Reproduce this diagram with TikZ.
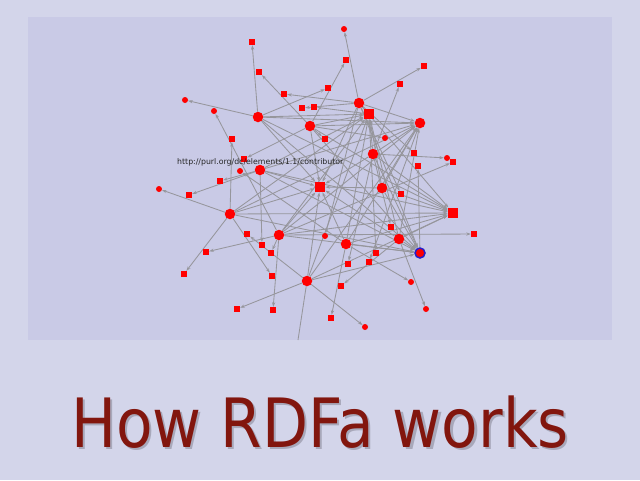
\documentclass[tikz,border=0pt]{standalone}
\usepackage{fontspec}
\setmainfont{DejaVu Sans}
\usetikzlibrary{arrows.meta}
\definecolor{outerbg}{RGB}{211,213,234}
\definecolor{panelbg}{RGB}{201,202,230}
\definecolor{edgegray}{RGB}{150,150,156}
\definecolor{titlered}{RGB}{130,22,14}
\definecolor{shadowgray}{RGB}{168,168,186}
\definecolor{ringblue}{RGB}{40,30,200}
\pgfdeclarelayer{bglayer}
\pgfdeclarelayer{edgelayer}
\pgfsetlayers{bglayer,edgelayer,main}
\newcommand{\titlewords}{How RDFa works}
\begin{document}
\begin{tikzpicture}[x=1pt,y=-1pt,
  hub/.style={circle,fill=red,draw=none,minimum size=10.5pt,inner sep=0pt},
  bigsq/.style={rectangle,fill=red,draw=none,minimum size=10.5pt,inner sep=0pt},
  sq/.style={rectangle,fill=red,draw=none,minimum size=6pt,inner sep=0pt},
  sc/.style={circle,fill=red,draw=none,minimum size=6pt,inner sep=0pt},
  sel/.style={circle,fill=red,draw=ringblue,line width=1.5pt,minimum size=10pt,inner sep=0pt},
  link/.style={draw=edgegray,line width=0.85pt,-{Stealth[length=4.5pt,width=3.2pt]}},
  plainlink/.style={draw=edgegray,line width=0.85pt},
  titletext/.style={anchor=base,font=\fontsize{68}{68}\selectfont,inner sep=0pt},
  urltext/.style={anchor=base west,font=\fontsize{7.8}{8}\selectfont,text=black!85,inner sep=0pt}]
\useasboundingbox (0,0) rectangle (640,480);
\begin{pgfonlayer}{bglayer}
  \fill[outerbg] (0,0) rectangle (640,480);
  \fill[panelbg] (28,17) rectangle (612,340);
\end{pgfonlayer}
% hubs
\node[hub] (A) at (258,117) {};
\node[hub] (B) at (310,126) {};
\node[hub] (C) at (359,103) {};
\node[hub] (D) at (420,123) {};
\node[hub] (E) at (373,154) {};
\node[hub] (F) at (260,170) {};
\node[hub] (G) at (382,188) {};
\node[hub] (H) at (230,214) {};
\node[hub] (I) at (279,235) {};
\node[hub] (J) at (346,244) {};
\node[hub] (K) at (399,239) {};
\node[hub] (L) at (307,281) {};
\node[bigsq] (S1) at (369,114) {};
\node[bigsq] (S2) at (320,187) {};
\node[bigsq] (S3) at (453,213) {};
\node[sel] (X) at (420,253) {};
% leaf squares
\node[sq] (l1) at (252,42) {};
\node[sq] (l2) at (259,72) {};
\node[sq] (l3) at (284,94) {};
\node[sq] (l4) at (302,108) {};
\node[sq] (l5) at (314,107) {};
\node[sq] (l6) at (232,139) {};
\node[sq] (l7) at (244,159) {};
\node[sq] (l8) at (220,181) {};
\node[sq] (l9) at (189,195) {};
\node[sq] (l10) at (247,234) {};
\node[sq] (l11) at (262,245) {};
\node[sq] (l12) at (271,253) {};
\node[sq] (l13) at (206,252) {};
\node[sq] (l14) at (184,274) {};
\node[sq] (l15) at (272,276) {};
\node[sq] (l16) at (237,309) {};
\node[sq] (l17) at (273,310) {};
\node[sq] (l18) at (341,286) {};
\node[sq] (l19) at (348,264) {};
\node[sq] (l20) at (369,262) {};
\node[sq] (l21) at (376,253) {};
\node[sq] (l22) at (391,227) {};
\node[sq] (l23) at (401,194) {};
\node[sq] (l24) at (414,153) {};
\node[sq] (l25) at (453,162) {};
\node[sq] (l26) at (418,166) {};
\node[sq] (l27) at (424,66) {};
\node[sq] (l28) at (400,84) {};
\node[sq] (l29) at (346,60) {};
\node[sq] (l30) at (328,88) {};
\node[sq] (l31) at (474,234) {};
\node[sq] (l32) at (331,318) {};
\node[sq] (l33) at (325,139) {};
% leaf circles
\node[sc] (c1) at (344,29) {};
\node[sc] (c2) at (185,100) {};
\node[sc] (c3) at (214,111) {};
\node[sc] (c4) at (240,171) {};
\node[sc] (c5) at (159,189) {};
\node[sc] (c7) at (385,138) {};
\node[sc] (c8) at (447,158) {};
\node[sc] (c9) at (325,236) {};
\node[sc] (c10) at (411,282) {};
\node[sc] (c11) at (426,309) {};
\node[sc] (c12) at (365,327) {};
\coordinate (off) at (298,340);
% edges
\begin{pgfonlayer}{edgelayer}
  \foreach \h in {A,B,C,E,F,G,H,I,J,K,L}
    \foreach \t in {S1,D,S3,X,S2}
      \draw[link] (\h) -- (\t);
  \foreach \s/\t in {A/l1,B/l2,C/l3,C/l4,S1/l5,I/c3,H/l6,B/l7,F/l8,F/l9,H/c5,A/c2,J/c4,
      L/l10,F/l11,I/l12,I/l13,H/l14,H/l15,L/l16,I/l17,K/l18,E/l19,D/l20,S1/l21,E/l22,
      C/l23,C/l24,I/l25,X/l26,C/l27,E/l28,B/l29,A/l30,I/l31,J/l32,C/c1,B/l33,B/c7,
      E/c8,C/c9,J/c10,K/c11,L/c12}
    \draw[link] (\s) -- (\t);
  \draw[plainlink] (L) -- (off);
\end{pgfonlayer}
\node[urltext] (url) at (177,164) {http://purl.org/dc/elements/1.1/contributor};
% title with shadow, one text node
\node[titletext] (title) at (320,447) {\scalebox{0.88}[1]{\rlap{\hspace{2.5pt}\raisebox{-2.5pt}{\textcolor{shadowgray}{\titlewords}}}\textcolor{titlered}{\titlewords}}};
\end{tikzpicture}
\end{document}
